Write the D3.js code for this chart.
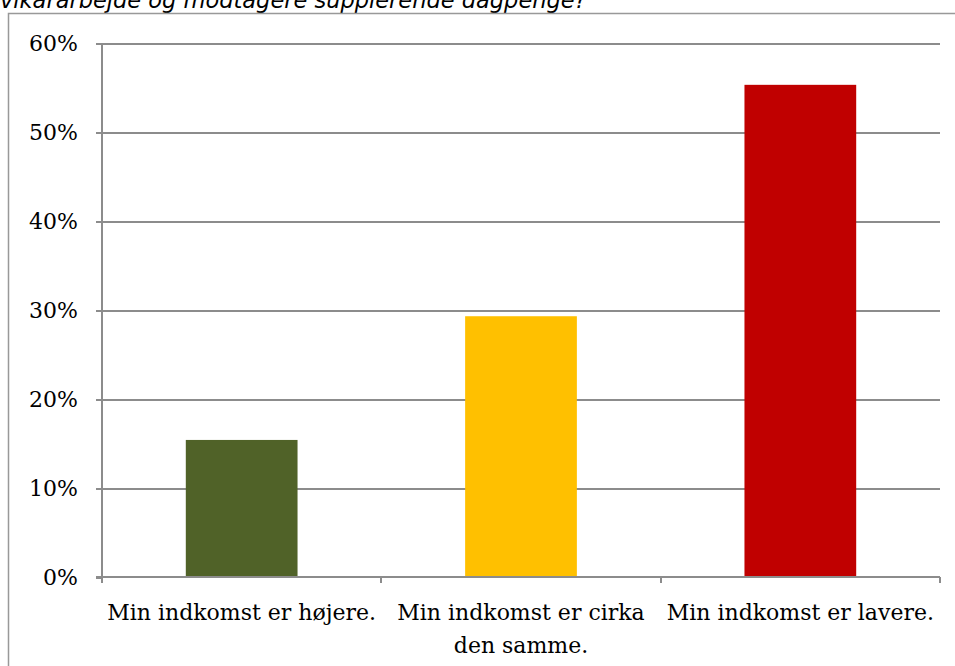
<!DOCTYPE html>
<meta charset="utf-8">
<style>
  body { margin: 0; background: #fff; }
  .axis text { font: 22px "DejaVu Serif", serif; fill: #000; }
  .axis path, .axis line { fill: none; stroke: #8c8c8c; stroke-width: 2px; shape-rendering: crispEdges; }
  .grid line { stroke: #8c8c8c; stroke-width: 2px; shape-rendering: crispEdges; }
  .grid path { display: none; }
</style>
<body>
<script src="https://cdn.jsdelivr.net/npm/d3@7"></script>
<script>
  var categories = ["Min indkomst er højere.", "Min indkomst er cirka den samme.", "Min indkomst er lavere."];
  var values = [0.154, 0.293, 0.553];
  var colors = ["#506228", "#ffc000", "#c00000"];
  var yTicks = [0, 0.1, 0.2, 0.3, 0.4, 0.5, 0.6];
  var title = "vikararbejde og modtagere supplerende dagpenge?";

  var W = 955, H = 666,
      plot = {left: 102, right: 940, top: 43, bottom: 577};

  var svg = d3.select("body").append("svg")
      .attr("width", W)
      .attr("height", H);

  // title, cut off at the top like the original
  svg.append("text")
      .attr("x", 0)
      .attr("y", 8)
      .style("font", "italic 22.5px 'DejaVu Sans', sans-serif")
      .style("fill", "#000")
      .text(title);

  // chart frame (runs off the right and bottom edges)
  svg.append("rect")
      .attr("x", 8.5).attr("y", 13.5)
      .attr("width", 960).attr("height", 700)
      .style("fill", "none")
      .style("stroke", "#999")
      .style("stroke-width", 1.5);

  var x = d3.scaleBand()
      .domain(categories)
      .range([plot.left, plot.right])
      .paddingInner(0.6).paddingOuter(0.3);

  var xTicks = d3.scaleBand().domain(categories).range([plot.left, plot.right]);

  var y = d3.scaleLinear()
      .domain([0, 0.6])
      .range([plot.bottom, plot.top]);

  // gridlines
  svg.append("g")
      .attr("class", "grid")
      .attr("transform", "translate(" + plot.left + ",0)")
      .call(d3.axisRight(y).tickValues(yTicks.slice(1)).tickSize(plot.right - plot.left).tickFormat(""));

  // bars
  svg.selectAll(".bar")
      .data(values)
      .enter().append("rect")
      .attr("class", "bar")
      .attr("x", function(d, i) { return x(categories[i]); })
      .attr("width", x.bandwidth())
      .attr("y", function(d) { return y(d); })
      .attr("height", function(d) { return y(0) - y(d); })
      .style("fill", function(d, i) { return colors[i]; });

  // y axis
  var yAxis = svg.append("g")
      .attr("class", "axis")
      .attr("transform", "translate(" + plot.left + ",0)")
      .call(d3.axisLeft(y).tickValues(yTicks).tickFormat(d3.format(".0%")).tickSize(6).tickPadding(18));
  yAxis.select(".domain").attr("d", "M0," + plot.top + "V" + plot.bottom);

  // x axis
  var xAxis = svg.append("g")
      .attr("class", "axis")
      .attr("transform", "translate(0," + plot.bottom + ")");
  xAxis.append("line")
      .attr("x1", plot.left - 6).attr("x2", plot.right);
  var edges = categories.map(function(c) { return xTicks(c); }).concat([plot.right]);
  xAxis.selectAll(".xtick")
      .data(edges)
      .enter().append("line")
      .attr("class", "xtick")
      .attr("x1", function(d) { return d; }).attr("x2", function(d) { return d; })
      .attr("y1", 0).attr("y2", 6);

  var labels = xAxis.selectAll(".xlab")
      .data(categories)
      .enter().append("text")
      .attr("class", "xlab")
      .attr("text-anchor", "middle")
      .attr("x", function(d) { return xTicks(d) + xTicks.bandwidth() / 2; })
      .attr("y", 43);

  // wrap labels to the band width
  labels.each(function(d) {
    var t = d3.select(this), words = d.split(" "), line = [],
        cx = t.attr("x"),
        tspan = t.append("tspan").attr("x", cx).attr("dy", 0);
    words.forEach(function(w) {
      line.push(w);
      tspan.text(line.join(" "));
      if (tspan.node().getComputedTextLength() > xTicks.bandwidth() - 4 && line.length > 1) {
        line.pop();
        tspan.text(line.join(" "));
        line = [w];
        tspan = t.append("tspan").attr("x", cx).attr("dy", 33).text(w);
      }
    });
  });
</script>
</body>
